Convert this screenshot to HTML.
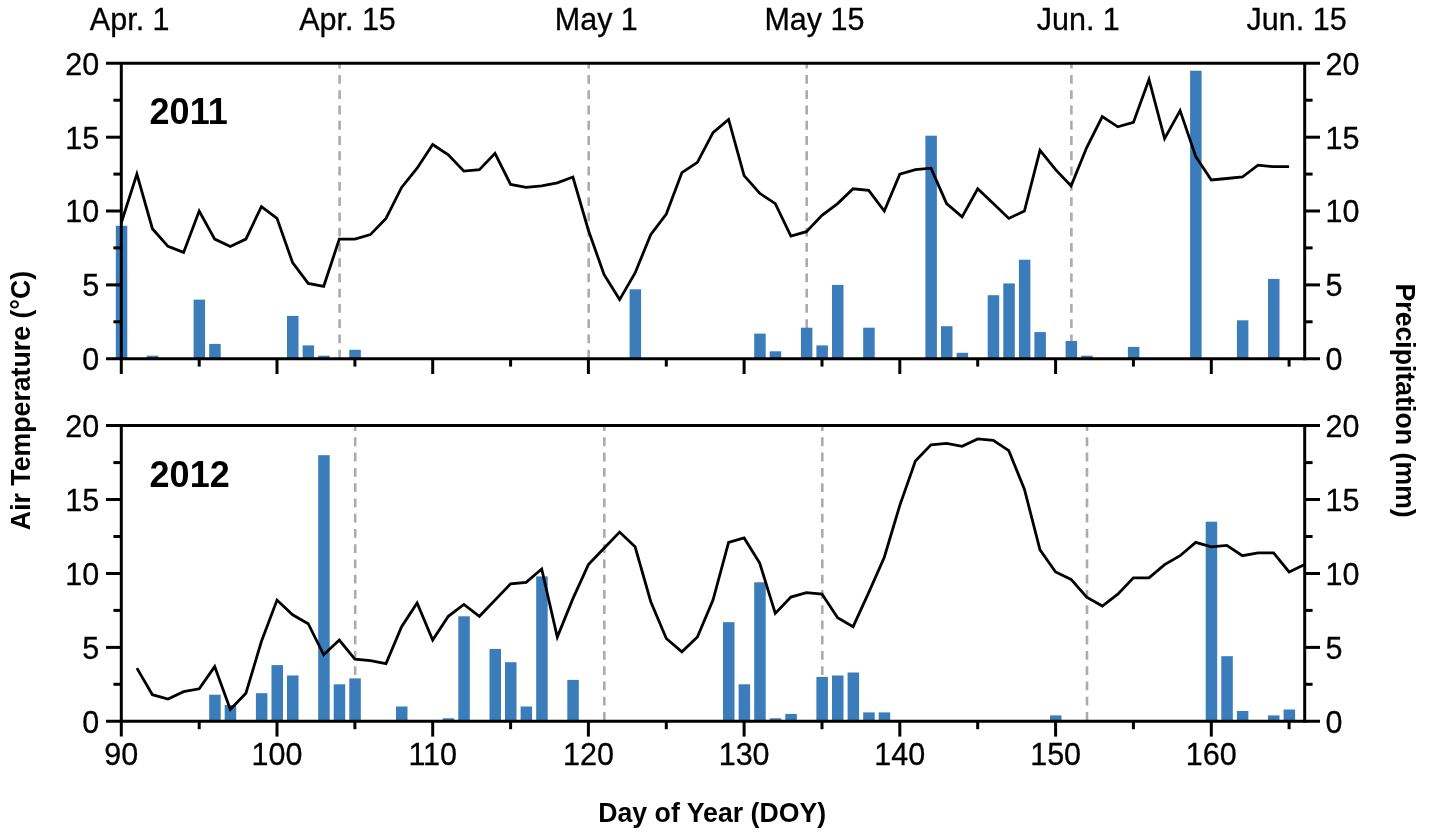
<!DOCTYPE html>
<html lang="en">
<head>
<meta charset="utf-8">
<title>Air temperature and precipitation, 2011 and 2012</title>
<style>
html,body{margin:0;padding:0;background:#fff;overflow:hidden;}
svg{display:block;will-change:transform;}
text{font-family:"Liberation Sans",Arial,Helvetica,sans-serif;fill:#000000;}
.t{font-size:30.5px;stroke:#000;stroke-width:0.3px;}
.b{font-size:26.7px;font-weight:bold;}
.y{font-size:36px;font-weight:bold;}
</style>
</head>
<body>
<svg width="1429" height="836" viewBox="0 0 1429 836">
<rect x="0" y="0" width="1429" height="836" fill="#ffffff"/>
<g id="panel-2011">
<g stroke="#ababab" stroke-width="2.6" stroke-dasharray="8.8 6.46" stroke-dashoffset="3.7" fill="none">
<line x1="339.6" y1="63.5" x2="339.6" y2="358.7"/>
<line x1="588.7" y1="63.5" x2="588.7" y2="358.7"/>
<line x1="806.7" y1="63.5" x2="806.7" y2="358.7"/>
<line x1="1071.4" y1="63.5" x2="1071.4" y2="358.7"/>
</g>
<g fill="#3a7dba">
<rect x="115.8" y="225.8" width="11.5" height="132.9"/>
<rect x="146.9" y="355.7" width="11.5" height="3.0"/>
<rect x="193.6" y="299.6" width="11.5" height="59.1"/>
<rect x="209.2" y="343.9" width="11.5" height="14.8"/>
<rect x="287.0" y="315.9" width="11.5" height="42.8"/>
<rect x="302.6" y="345.4" width="11.5" height="13.3"/>
<rect x="318.2" y="355.7" width="11.5" height="3.0"/>
<rect x="349.3" y="349.8" width="11.5" height="8.9"/>
<rect x="551.7" y="358.0" width="11.5" height="0.7"/>
<rect x="629.6" y="289.3" width="11.5" height="69.4"/>
<rect x="754.2" y="333.6" width="11.5" height="25.1"/>
<rect x="769.7" y="351.3" width="11.5" height="7.4"/>
<rect x="800.9" y="327.7" width="11.5" height="31.0"/>
<rect x="816.4" y="345.4" width="11.5" height="13.3"/>
<rect x="832.0" y="284.9" width="11.5" height="73.8"/>
<rect x="863.2" y="327.7" width="11.5" height="31.0"/>
<rect x="925.4" y="135.7" width="11.5" height="223.0"/>
<rect x="941.0" y="326.2" width="11.5" height="32.5"/>
<rect x="956.6" y="352.8" width="11.5" height="5.9"/>
<rect x="987.7" y="295.2" width="11.5" height="63.5"/>
<rect x="1003.3" y="283.4" width="11.5" height="75.3"/>
<rect x="1018.9" y="259.7" width="11.5" height="99.0"/>
<rect x="1034.4" y="332.1" width="11.5" height="26.6"/>
<rect x="1065.6" y="341.0" width="11.5" height="17.7"/>
<rect x="1081.2" y="355.7" width="11.5" height="3.0"/>
<rect x="1127.9" y="346.9" width="11.5" height="11.8"/>
<rect x="1190.1" y="70.7" width="11.5" height="288.0"/>
<rect x="1236.9" y="320.3" width="11.5" height="38.4"/>
<rect x="1268.0" y="278.9" width="11.5" height="79.8"/>
</g>
<polyline points="121.3,222.8 136.9,174.1 152.4,228.7 168.0,246.4 183.6,252.4 199.2,211.0 214.7,239.1 230.3,246.4 245.9,239.1 261.4,206.6 277.0,218.4 292.6,262.7 308.2,283.4 323.7,286.3 339.3,239.1 354.9,239.1 370.4,234.6 386.0,218.4 401.6,187.4 417.1,168.2 432.7,144.5 448.3,154.9 463.9,171.1 479.4,169.6 495.0,153.4 510.6,184.4 526.1,187.4 541.7,185.9 557.3,182.9 572.9,177.0 588.4,230.2 604.0,274.5 619.6,299.6 635.1,273.0 650.7,234.6 666.3,214.0 681.9,172.6 697.4,162.3 713.0,132.7 728.6,119.4 744.1,175.6 759.7,193.3 775.3,203.6 790.9,236.1 806.4,231.7 822.0,215.4 837.6,203.6 853.1,188.8 868.7,190.3 884.3,211.0 899.8,174.1 915.4,169.6 931.0,168.2 946.6,203.6 962.1,216.9 977.7,188.8 993.3,203.6 1008.8,218.4 1024.4,211.0 1040.0,150.4 1055.6,169.6 1071.1,185.9 1086.7,147.5 1102.3,116.5 1117.8,126.8 1133.4,122.4 1149.0,79.5 1164.6,138.6 1180.1,110.6 1195.7,156.4 1211.3,180.0 1226.8,178.5 1242.4,177.0 1258.0,165.2 1273.6,166.7 1289.1,166.7" fill="none" stroke="#000000" stroke-width="2.8" stroke-linejoin="miter" stroke-linecap="butt"/>
<g stroke="#000000" stroke-width="3.0" fill="none" stroke-linecap="butt">
<line x1="106.0" y1="63.3" x2="1320.0" y2="63.3"/>
<line x1="106.0" y1="358.7" x2="1320.0" y2="358.7"/>
<line x1="121.3" y1="63.3" x2="121.3" y2="374.0"/>
<line x1="1304.7" y1="63.3" x2="1304.7" y2="360.2"/>
<line x1="113.4" y1="321.8" x2="121.3" y2="321.8"/>
<line x1="1304.7" y1="321.8" x2="1312.6" y2="321.8"/>
<line x1="106.0" y1="284.9" x2="121.3" y2="284.9"/>
<line x1="1304.7" y1="284.9" x2="1320.0" y2="284.9"/>
<line x1="113.4" y1="247.9" x2="121.3" y2="247.9"/>
<line x1="1304.7" y1="247.9" x2="1312.6" y2="247.9"/>
<line x1="106.0" y1="211.0" x2="121.3" y2="211.0"/>
<line x1="1304.7" y1="211.0" x2="1320.0" y2="211.0"/>
<line x1="113.4" y1="174.1" x2="121.3" y2="174.1"/>
<line x1="1304.7" y1="174.1" x2="1312.6" y2="174.1"/>
<line x1="106.0" y1="137.2" x2="121.3" y2="137.2"/>
<line x1="1304.7" y1="137.2" x2="1320.0" y2="137.2"/>
<line x1="113.4" y1="100.2" x2="121.3" y2="100.2"/>
<line x1="1304.7" y1="100.2" x2="1312.6" y2="100.2"/>
<line x1="199.2" y1="358.7" x2="199.2" y2="366.6"/>
<line x1="277.0" y1="358.7" x2="277.0" y2="374.0"/>
<line x1="354.9" y1="358.7" x2="354.9" y2="366.6"/>
<line x1="432.7" y1="358.7" x2="432.7" y2="374.0"/>
<line x1="510.6" y1="358.7" x2="510.6" y2="366.6"/>
<line x1="588.4" y1="358.7" x2="588.4" y2="374.0"/>
<line x1="666.3" y1="358.7" x2="666.3" y2="366.6"/>
<line x1="744.1" y1="358.7" x2="744.1" y2="374.0"/>
<line x1="822.0" y1="358.7" x2="822.0" y2="366.6"/>
<line x1="899.8" y1="358.7" x2="899.8" y2="374.0"/>
<line x1="977.7" y1="358.7" x2="977.7" y2="366.6"/>
<line x1="1055.6" y1="358.7" x2="1055.6" y2="374.0"/>
<line x1="1133.4" y1="358.7" x2="1133.4" y2="366.6"/>
<line x1="1211.3" y1="358.7" x2="1211.3" y2="374.0"/>
<line x1="1289.1" y1="358.7" x2="1289.1" y2="366.6"/>
</g>
<g class="t">
<text transform="translate(99.3 370.0) scale(1 1.0)" text-anchor="end">0</text>
<text transform="translate(1325.5 370.0) scale(1 1.0)" text-anchor="start">0</text>
<text transform="translate(99.3 296.2) scale(1 1.0)" text-anchor="end">5</text>
<text transform="translate(1325.5 296.2) scale(1 1.0)" text-anchor="start">5</text>
<text transform="translate(99.3 222.3) scale(1 1.0)" text-anchor="end">10</text>
<text transform="translate(1325.5 222.3) scale(1 1.0)" text-anchor="start">10</text>
<text transform="translate(99.3 148.5) scale(1 1.0)" text-anchor="end">15</text>
<text transform="translate(1325.5 148.5) scale(1 1.0)" text-anchor="start">15</text>
<text transform="translate(99.3 74.6) scale(1 1.0)" text-anchor="end">20</text>
<text transform="translate(1325.5 74.6) scale(1 1.0)" text-anchor="start">20</text>
</g>
<text class="y" transform="translate(149.6 124.2) scale(1 1.025)">2011</text>
</g>
<g id="panel-2012">
<g stroke="#ababab" stroke-width="2.6" stroke-dasharray="8.8 6.46" stroke-dashoffset="3.7" fill="none">
<line x1="355.2" y1="425.8" x2="355.2" y2="721.3"/>
<line x1="604.3" y1="425.8" x2="604.3" y2="721.3"/>
<line x1="822.3" y1="425.8" x2="822.3" y2="721.3"/>
<line x1="1087.0" y1="425.8" x2="1087.0" y2="721.3"/>
</g>
<g fill="#3a7dba">
<rect x="209.2" y="694.7" width="11.5" height="26.6"/>
<rect x="224.7" y="705.0" width="11.5" height="16.3"/>
<rect x="255.9" y="693.2" width="11.5" height="28.1"/>
<rect x="271.5" y="665.1" width="11.5" height="56.2"/>
<rect x="287.0" y="675.5" width="11.5" height="45.8"/>
<rect x="318.2" y="455.2" width="11.5" height="266.1"/>
<rect x="333.7" y="684.3" width="11.5" height="37.0"/>
<rect x="349.3" y="678.4" width="11.5" height="42.9"/>
<rect x="380.5" y="720.7" width="11.5" height="0.6"/>
<rect x="396.0" y="706.5" width="11.5" height="14.8"/>
<rect x="442.7" y="718.3" width="11.5" height="3.0"/>
<rect x="458.3" y="616.3" width="11.5" height="105.0"/>
<rect x="489.5" y="648.9" width="11.5" height="72.4"/>
<rect x="505.0" y="662.2" width="11.5" height="59.1"/>
<rect x="520.6" y="706.5" width="11.5" height="14.8"/>
<rect x="536.2" y="576.4" width="11.5" height="144.9"/>
<rect x="567.3" y="679.9" width="11.5" height="41.4"/>
<rect x="582.9" y="720.7" width="11.5" height="0.6"/>
<rect x="723.0" y="622.2" width="11.5" height="99.1"/>
<rect x="738.6" y="684.3" width="11.5" height="37.0"/>
<rect x="754.2" y="582.3" width="11.5" height="139.0"/>
<rect x="769.7" y="718.3" width="11.5" height="3.0"/>
<rect x="785.3" y="713.9" width="11.5" height="7.4"/>
<rect x="816.4" y="676.9" width="11.5" height="44.4"/>
<rect x="832.0" y="675.5" width="11.5" height="45.8"/>
<rect x="847.6" y="672.5" width="11.5" height="48.8"/>
<rect x="863.2" y="712.4" width="11.5" height="8.9"/>
<rect x="878.7" y="712.4" width="11.5" height="8.9"/>
<rect x="1050.0" y="715.4" width="11.5" height="5.9"/>
<rect x="1205.7" y="521.7" width="11.5" height="199.6"/>
<rect x="1221.3" y="656.2" width="11.5" height="65.1"/>
<rect x="1236.9" y="711.0" width="11.5" height="10.3"/>
<rect x="1268.0" y="715.4" width="11.5" height="5.9"/>
<rect x="1283.6" y="709.5" width="11.5" height="11.8"/>
</g>
<polyline points="136.9,668.1 152.4,694.7 168.0,699.1 183.6,691.7 199.2,688.8 214.7,666.6 230.3,709.5 245.9,693.2 261.4,641.5 277.0,600.1 292.6,614.8 308.2,623.7 323.7,654.8 339.3,640.0 354.9,659.2 370.4,660.7 386.0,663.6 401.6,626.7 417.1,603.0 432.7,640.0 448.3,616.3 463.9,604.5 479.4,616.3 495.0,600.1 510.6,583.8 526.1,582.3 541.7,569.0 557.3,637.0 572.9,598.6 588.4,564.6 604.0,548.3 619.6,532.1 635.1,546.8 650.7,601.5 666.3,638.5 681.9,651.8 697.4,637.0 713.0,600.1 728.6,542.4 744.1,538.0 759.7,563.1 775.3,613.4 790.9,597.1 806.4,592.7 822.0,594.1 837.6,617.8 853.1,626.7 868.7,592.7 884.3,557.2 899.8,505.4 915.4,461.1 931.0,444.8 946.6,443.3 962.1,446.3 977.7,438.9 993.3,440.4 1008.8,450.7 1024.4,489.2 1040.0,549.8 1055.6,572.0 1071.1,579.4 1086.7,597.1 1102.3,606.0 1117.8,594.1 1133.4,577.9 1149.0,577.9 1164.6,564.6 1180.1,555.7 1195.7,542.4 1211.3,546.8 1226.8,545.4 1242.4,555.7 1258.0,552.8 1273.6,552.8 1289.1,572.0 1304.7,564.6" fill="none" stroke="#000000" stroke-width="2.8" stroke-linejoin="miter" stroke-linecap="butt"/>
<g stroke="#000000" stroke-width="3.0" fill="none" stroke-linecap="butt">
<line x1="106.0" y1="425.6" x2="1320.0" y2="425.6"/>
<line x1="106.0" y1="721.3" x2="1320.0" y2="721.3"/>
<line x1="121.3" y1="425.6" x2="121.3" y2="736.6"/>
<line x1="1304.7" y1="425.6" x2="1304.7" y2="722.8"/>
<line x1="113.4" y1="684.3" x2="121.3" y2="684.3"/>
<line x1="1304.7" y1="684.3" x2="1312.6" y2="684.3"/>
<line x1="106.0" y1="647.4" x2="121.3" y2="647.4"/>
<line x1="1304.7" y1="647.4" x2="1320.0" y2="647.4"/>
<line x1="113.4" y1="610.4" x2="121.3" y2="610.4"/>
<line x1="1304.7" y1="610.4" x2="1312.6" y2="610.4"/>
<line x1="106.0" y1="573.5" x2="121.3" y2="573.5"/>
<line x1="1304.7" y1="573.5" x2="1320.0" y2="573.5"/>
<line x1="113.4" y1="536.5" x2="121.3" y2="536.5"/>
<line x1="1304.7" y1="536.5" x2="1312.6" y2="536.5"/>
<line x1="106.0" y1="499.5" x2="121.3" y2="499.5"/>
<line x1="1304.7" y1="499.5" x2="1320.0" y2="499.5"/>
<line x1="113.4" y1="462.6" x2="121.3" y2="462.6"/>
<line x1="1304.7" y1="462.6" x2="1312.6" y2="462.6"/>
<line x1="199.2" y1="721.3" x2="199.2" y2="729.2"/>
<line x1="277.0" y1="721.3" x2="277.0" y2="736.6"/>
<line x1="354.9" y1="721.3" x2="354.9" y2="729.2"/>
<line x1="432.7" y1="721.3" x2="432.7" y2="736.6"/>
<line x1="510.6" y1="721.3" x2="510.6" y2="729.2"/>
<line x1="588.4" y1="721.3" x2="588.4" y2="736.6"/>
<line x1="666.3" y1="721.3" x2="666.3" y2="729.2"/>
<line x1="744.1" y1="721.3" x2="744.1" y2="736.6"/>
<line x1="822.0" y1="721.3" x2="822.0" y2="729.2"/>
<line x1="899.8" y1="721.3" x2="899.8" y2="736.6"/>
<line x1="977.7" y1="721.3" x2="977.7" y2="729.2"/>
<line x1="1055.6" y1="721.3" x2="1055.6" y2="736.6"/>
<line x1="1133.4" y1="721.3" x2="1133.4" y2="729.2"/>
<line x1="1211.3" y1="721.3" x2="1211.3" y2="736.6"/>
<line x1="1289.1" y1="721.3" x2="1289.1" y2="729.2"/>
</g>
<g class="t">
<text transform="translate(99.3 732.6) scale(1 1.0)" text-anchor="end">0</text>
<text transform="translate(1325.5 732.6) scale(1 1.0)" text-anchor="start">0</text>
<text transform="translate(99.3 658.7) scale(1 1.0)" text-anchor="end">5</text>
<text transform="translate(1325.5 658.7) scale(1 1.0)" text-anchor="start">5</text>
<text transform="translate(99.3 584.8) scale(1 1.0)" text-anchor="end">10</text>
<text transform="translate(1325.5 584.8) scale(1 1.0)" text-anchor="start">10</text>
<text transform="translate(99.3 510.8) scale(1 1.0)" text-anchor="end">15</text>
<text transform="translate(1325.5 510.8) scale(1 1.0)" text-anchor="start">15</text>
<text transform="translate(99.3 436.9) scale(1 1.0)" text-anchor="end">20</text>
<text transform="translate(1325.5 436.9) scale(1 1.0)" text-anchor="start">20</text>
</g>
<text class="y" transform="translate(149.6 486.5) scale(1 1.025)">2012</text>
<g class="t" text-anchor="middle">
<text transform="translate(121.3 765.0) scale(1 1.0)">90</text>
<text transform="translate(277.0 765.0) scale(1 1.0)">100</text>
<text transform="translate(432.7 765.0) scale(1 1.0)">110</text>
<text transform="translate(588.4 765.0) scale(1 1.0)">120</text>
<text transform="translate(744.1 765.0) scale(1 1.0)">130</text>
<text transform="translate(899.8 765.0) scale(1 1.0)">140</text>
<text transform="translate(1055.6 765.0) scale(1 1.0)">150</text>
<text transform="translate(1211.3 765.0) scale(1 1.0)">160</text>
</g>
</g>
<g class="t" text-anchor="middle">
<text transform="translate(129.7 30.3) scale(1 1.04)">Apr. 1</text>
<text transform="translate(347.5 30.3) scale(1 1.04)">Apr. 15</text>
<text transform="translate(596.3 30.3) scale(1 1.04)">May 1</text>
<text transform="translate(814.4 30.3) scale(1 1.04)">May 15</text>
<text transform="translate(1078.3 30.3) scale(1 1.04)">Jun. 1</text>
<text transform="translate(1296.6 30.3) scale(1 1.04)">Jun. 15</text>
</g>
<text class="b" text-anchor="middle" transform="translate(29.5 400.5) rotate(-90) scale(1 1.06)">Air Temperature (°C)</text>
<text class="b" text-anchor="middle" transform="translate(1396.3 400.6) rotate(90) scale(1 1.06)">Precipitation (mm)</text>
<text class="b" text-anchor="middle" transform="translate(712.2 822.3) scale(1 1.05)">Day of Year (DOY)</text>
</svg>
</body>
</html>
